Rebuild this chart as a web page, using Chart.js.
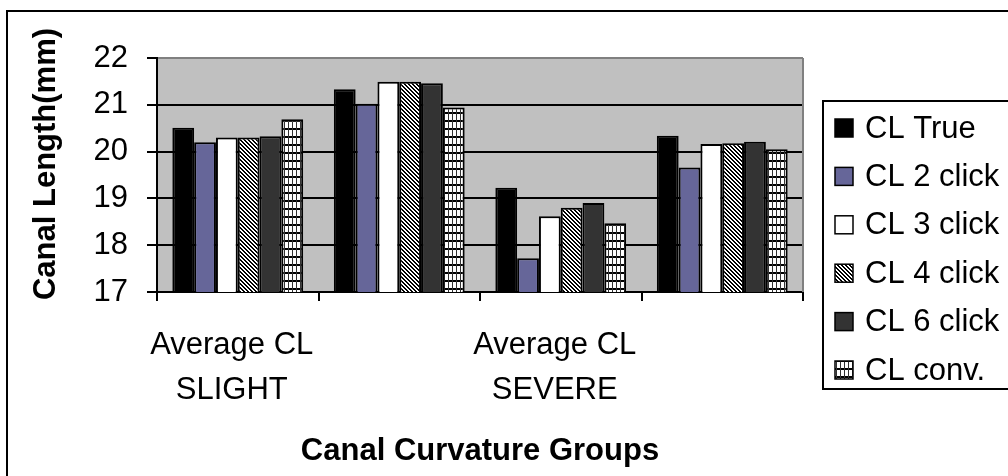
<!DOCTYPE html>
<html>
<head>
<meta charset="utf-8">
<script src="https://cdn.jsdelivr.net/npm/chart.js@4/dist/chart.umd.min.js"></script>
<style>
  html, body { margin: 0; padding: 0; background: #ffffff; }
  #wrap { width: 1008px; height: 476px; position: relative; }
  canvas { display: block; }
</style>
</head>
<body>
<div id="wrap"><canvas id="c" width="1008" height="476"></canvas></div>
<script>
// ---- data ----
const tickLabels = [['Average CL', 'SLIGHT'], [], ['Average CL', 'SEVERE'], []];
const seriesNames = ['CL True', 'CL 2 click', 'CL 3 click', 'CL 4 click', 'CL 6 click', 'CL conv.'];
const clTrue  = [20.51, 21.33, 19.23, 20.34];
const cl2     = [20.20, 21.02, 17.72, 19.66];
const cl3     = [20.30, 21.49, 18.62, 20.16];
const cl4     = [20.30, 21.49, 18.80, 20.18];
const cl6     = [20.33, 21.46, 18.90, 20.21];
const clConv  = [20.69, 20.94, 18.47, 20.05];
const yMin = 17, yMax = 22, yStep = 1;
const xTitle = 'Canal Curvature Groups';
const yTitle = 'Canal Length(mm)';

// ---- patterns ----
function makeStripe() {
  const c = document.createElement('canvas'); c.width = 8; c.height = 8;
  const g = c.getContext('2d');
  g.fillStyle = '#ffffff'; g.fillRect(0, 0, 8, 8);
  g.fillStyle = '#000000';
  for (let y = 0; y < 8; y++) for (let x = 0; x < 8; x++) {
    const m = ((x - y) % 4 + 4) % 4;
    if (m === 0 || m === 1) g.fillRect(x, y, 1, 1);
  }
  return g.createPattern(c, 'repeat');
}
function makeGrid() {
  const c = document.createElement('canvas'); c.width = 8; c.height = 8;
  const g = c.getContext('2d');
  g.fillStyle = '#ffffff'; g.fillRect(0, 0, 8, 8);
  g.fillStyle = '#000000';
  g.fillRect(0, 0, 8, 2);
  g.fillStyle = '#333333';
  g.fillRect(0, 0, 1, 8);
  g.fillRect(4, 0, 1, 8);
  return g.createPattern(c, 'repeat');
}
const fills = ['#000000', '#666699', '#ffffff', makeStripe(), '#333333', makeGrid()];
const values = [clTrue, cl2, cl3, cl4, cl6, clConv];

const FONT = "'Liberation Sans', Arial, sans-serif";

const bgPlugin = {
  id: 'bg',
  beforeDraw(chart) {
    const {ctx, chartArea: a} = chart;
    ctx.save();
    ctx.fillStyle = '#c0c0c0';
    ctx.fillRect(a.left, a.top, a.right - a.left, a.bottom - a.top);
    ctx.restore();
  },
  beforeDatasetsDraw(chart) {
    const {ctx, chartArea: a} = chart;
    ctx.save();
    ctx.strokeStyle = '#808080';
    ctx.lineWidth = 2;
    ctx.beginPath();
    ctx.moveTo(a.right, a.top); ctx.lineTo(a.right, a.bottom);
    ctx.stroke();
    ctx.restore();
  },
  afterDraw(chart) {
    const ctx = chart.ctx;
    ctx.save();
    // outer chart border (left and top visible)
    ctx.strokeStyle = '#000000';
    ctx.lineWidth = 2;
    ctx.beginPath();
    ctx.moveTo(7, 480); ctx.lineTo(7, 11); ctx.lineTo(1012, 11);
    ctx.stroke();
    // y axis title (slightly above plot centre, as in the original)
    ctx.save();
    ctx.translate(46, 164);
    ctx.rotate(-Math.PI / 2);
    ctx.font = 'bold 31px ' + FONT;
    ctx.textAlign = 'center';
    ctx.textBaseline = 'middle';
    ctx.fillStyle = '#000000';
    ctx.fillText(yTitle, 0, 0);
    ctx.restore();
    // legend box
    ctx.lineWidth = 2;
    ctx.strokeRect(823, 101, 200, 288);
    ctx.font = '31px ' + FONT;
    ctx.textBaseline = 'middle';
    ctx.textAlign = 'left';
    chart.data.datasets.forEach((ds, i) => {
      const cy = 128 + i * 48.4;
      ctx.fillStyle = ds.backgroundColor;
      ctx.fillRect(835, cy - 9, 18, 18);
      ctx.lineWidth = 1.5;
      ctx.strokeStyle = '#000000';
      ctx.strokeRect(835, cy - 9, 18, 18);
      ctx.fillStyle = '#000000';
      ctx.fillText(ds.label, 865, cy + 1);
    });
    ctx.restore();
  }
};

new Chart(document.getElementById('c'), {
  type: 'bar',
  data: {
    labels: tickLabels,
    datasets: seriesNames.map((n, i) => ({
      label: n,
      data: values[i],
      backgroundColor: fills[i],
      borderColor: '#000000',
      borderWidth: 2,
      borderSkipped: false,
      categoryPercentage: 0.81,
      barPercentage: 1.0
    }))
  },
  options: {
    responsive: false,
    devicePixelRatio: 1,
    animation: false,
    layout: { padding: { left: 0, top: 58, right: 205, bottom: 0 } },
    plugins: { legend: { display: false }, tooltip: { enabled: false } },
    scales: {
      x: {
        grid: { display: true, offset: true, drawOnChartArea: false, drawTicks: true, tickLength: 9, color: '#000000', lineWidth: 2 },
        border: { display: true, color: '#000000', width: 2 },
        ticks: { autoSkip: false, maxRotation: 0, minRotation: 0, padding: 22, labelOffset: -6, color: '#000000',
                 font: { family: FONT, size: 31, lineHeight: 1.45 } },
        title: { display: true, text: xTitle, color: '#000000', padding: { top: 0, bottom: 6 },
                 font: { family: FONT, size: 31, weight: 'bold', lineHeight: 1.2 } },
        afterFit(s) { s.height = 184; }
      },
      y: {
        min: yMin, max: yMax,
        ticks: { stepSize: yStep, padding: 19, color: '#000000', font: { family: FONT, size: 31 } },
        grid: { color: (c) => (c.tick && c.tick.value === yMax ? '#808080' : '#000000'), lineWidth: 2,
                tickColor: '#000000', tickLength: 10, drawTicks: true },
        border: { display: true, color: '#000000', width: 2 },
        title: { display: false },
        afterFit(s) { s.width = 157; }
      }
    }
  },
  plugins: [bgPlugin]
});
</script>
</body>
</html>
